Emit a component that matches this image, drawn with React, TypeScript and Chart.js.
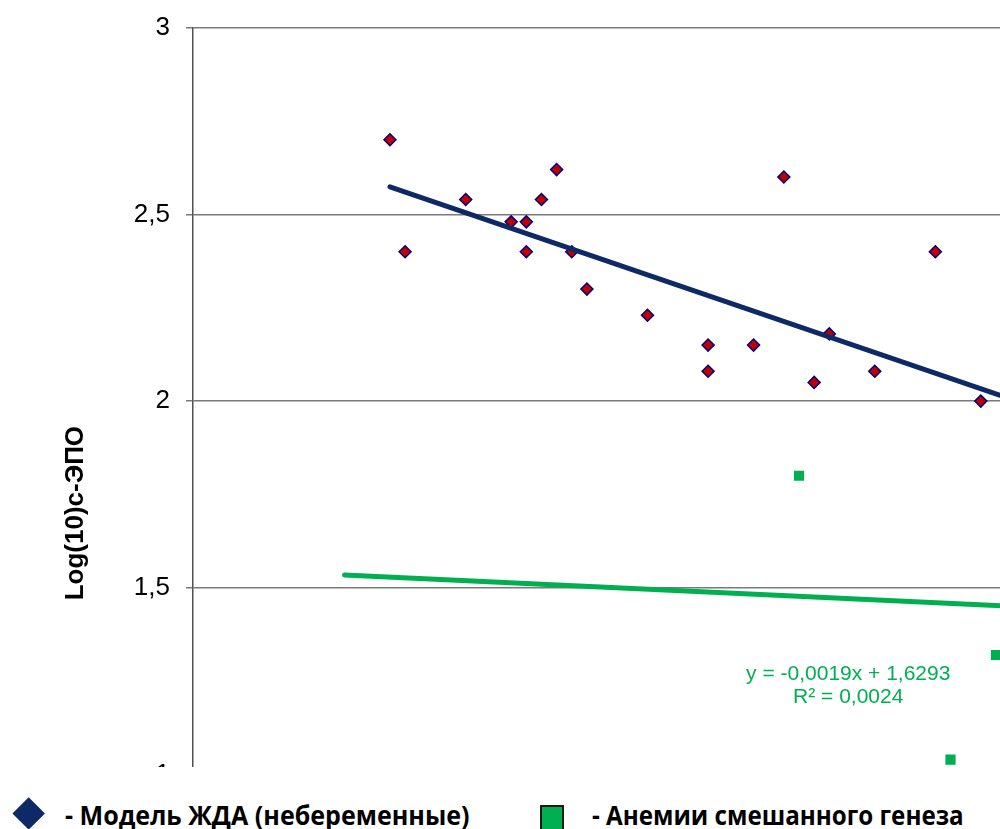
import React, { useEffect, useRef } from "react";
import { Chart, registerables } from "chart.js";

Chart.register(...registerables);

// Hemoglobin-like x values and log10 serum EPO for the non-pregnant IDA model
const idaX = [53, 54, 58, 61, 62, 62, 63, 64, 65, 66, 70, 74, 74, 77, 79, 81, 82, 85, 89, 92];
const idaY = [2.70, 2.40, 2.54, 2.48, 2.48, 2.40, 2.54, 2.62, 2.40, 2.30, 2.23, 2.15, 2.08, 2.15, 2.60, 2.05, 2.18, 2.08, 2.40, 2.00];

// Mixed-origin anemia group
const mixedX = [80, 90, 93];
const mixedY = [1.80, 1.04, 1.32];

// Linear trend coefficients: [slope, intercept] and x span of each fitted line
const idaTrend = [-0.01386, 3.3085];
const idaTrendX = [53, 100];
const mixedTrend = [-0.0019, 1.6293];
const mixedTrendX = [50, 100];
const mixedR2 = 0.0024;

// Axis ranges and tick spacing
const xRange = [40, 100];
const yRange = [0.4, 3];
const yStep = 0.5;

const axisTitle = "Log(10)с-ЭПО";
const legendLabels = ["- Модель ЖДА (небеременные)", "- Анемии смешанного генеза"];

const NAVY = "#0D2A66";
const GREEN = "#00B050";

const comma = (v: number, digits?: number) =>
  (digits === undefined ? String(v) : v.toFixed(digits)).replace(".", ",");

const trendPoints = (coef: number[], span: number[]) =>
  span.map((x) => ({ x, y: coef[0] * x + coef[1] }));

// Equation label for the mixed-group trend line, placed in data coordinates
const eqAnchor = { x: 83.25, y: 1.269 };

const equationPlugin = {
  id: "equationLabel",
  afterDatasetsDraw(chart: any) {
    const { ctx, scales } = chart;
    const px = scales.x.getPixelForValue(eqAnchor.x);
    const py = scales.y.getPixelForValue(eqAnchor.y);
    const sign = mixedTrend[1] >= 0 ? "+" : "-";
    const line1 = `y = ${comma(mixedTrend[0], 4)}x ${sign} ${comma(Math.abs(mixedTrend[1]), 4)}`;
    const line2 = `R² = ${comma(mixedR2, 4)}`;
    ctx.save();
    ctx.font = '21px "Liberation Sans", Arial, sans-serif';
    ctx.fillStyle = GREEN;
    ctx.textAlign = "center";
    ctx.textBaseline = "middle";
    ctx.fillText(line1, px, py);
    ctx.fillText(line2, px, py + 23.3);
    ctx.restore();
  },
};

// Plot area: top edge and pixels per y unit
const PLOT_TOP = 27.7;
const PX_PER_Y = 373.4;
const CANVAS_W = 1102;
const CANVAS_H = 1026;

export default function App() {
  const canvasRef = useRef<HTMLCanvasElement | null>(null);

  useEffect(() => {
    if (!canvasRef.current) return;
    Chart.defaults.font.family = '"Liberation Sans", Arial, sans-serif';
    const chart = new Chart(canvasRef.current, {
      type: "scatter",
      data: {
        datasets: [
          {
            label: "ida-trend",
            type: "line",
            data: trendPoints(idaTrend, idaTrendX),
            borderColor: NAVY,
            borderWidth: 5,
            borderCapStyle: "round",
            pointRadius: 0,
            showLine: true,
            order: 0,
          },
          {
            label: "mixed-trend",
            type: "line",
            data: trendPoints(mixedTrend, mixedTrendX),
            borderColor: GREEN,
            borderWidth: 5,
            borderCapStyle: "round",
            pointRadius: 0,
            showLine: true,
            order: 0,
          },
          {
            label: legendLabels[0],
            data: idaX.map((x, i) => ({ x, y: idaY[i] })),
            pointStyle: "rectRot",
            pointRadius: 6,
            backgroundColor: "#C00000",
            borderColor: "#000080",
            borderWidth: 1.5,
            order: 1,
          },
          {
            label: legendLabels[1],
            data: mixedX.map((x, i) => ({ x, y: mixedY[i] })),
            pointStyle: "rect",
            pointRadius: 7.2,
            backgroundColor: GREEN,
            borderColor: GREEN,
            borderWidth: 0,
            order: 1,
          },
        ],
      },
      options: {
        animation: false,
        responsive: false,
        devicePixelRatio: 1,
        layout: {
          autoPadding: false,
          padding: {
            top: PLOT_TOP,
            right: 0,
            bottom: CANVAS_H - PLOT_TOP - (yRange[1] - yRange[0]) * PX_PER_Y,
            left: 0,
          },
        },
        plugins: { legend: { display: false }, tooltip: { enabled: false } },
        scales: {
          x: { type: "linear", min: xRange[0], max: xRange[1], display: false },
          y: {
            type: "linear",
            min: yRange[0],
            max: yRange[1],
            afterFit: (scale: any) => {
              scale.width = 193;
            },
            ticks: {
              stepSize: yStep,
              padding: 16,
              color: "#000",
              font: { size: 26, lineHeight: 0.8 },
              callback: (v: any) => (Number.isInteger(Number(v) * 2) ? comma(Number(v)) : ""),
            },
            grid: { color: "#7a7a7a", lineWidth: 1.5, tickLength: 7, drawTicks: true },
            border: { display: true, color: "#505050", width: 1.5 },
            title: {
              display: true,
              text: axisTitle,
              color: "#000",
              font: { size: 26, weight: "bold" },
              padding: { top: 60, bottom: 0 },
            },
          },
        },
      },
      plugins: [equationPlugin],
    } as any);
    return () => chart.destroy();
  }, []);

  const legendText: React.CSSProperties = {
    position: "absolute",
    fontFamily: '"Open Sans", "Noto Sans", sans-serif',
    fontWeight: 700,
    fontSize: 26,
    lineHeight: "26px",
    top: 802,
    whiteSpace: "nowrap",
    color: "#000",
    transformOrigin: "0 50%",
  };

  return (
    <div
      style={{
        position: "absolute",
        left: 0,
        top: 0,
        width: 1000,
        height: 829,
        overflow: "hidden",
        background: "#fff",
      }}
    >
      <div style={{ position: "absolute", left: 0, top: 0, width: 1000, height: 767, overflow: "hidden" }}>
        <canvas ref={canvasRef} width={CANVAS_W} height={CANVAS_H} style={{ display: "block" }} />
      </div>
      <div
        style={{
          position: "absolute",
          left: 28.5 - 11.7,
          top: 813.5 - 11.7,
          width: 23.4,
          height: 23.4,
          background: NAVY,
          transform: "rotate(45deg)",
        }}
      />
      <div style={{ ...legendText, left: 65, transform: "scaleX(0.964)" }}>{legendLabels[0]}</div>
      <div
        style={{
          position: "absolute",
          left: 539.5,
          top: 805,
          width: 20,
          height: 22,
          background: GREEN,
          border: "2px solid #1a1a1a",
        }}
      />
      <div style={{ ...legendText, left: 592, transform: "scaleX(0.93)" }}>{legendLabels[1]}</div>
    </div>
  );
}
